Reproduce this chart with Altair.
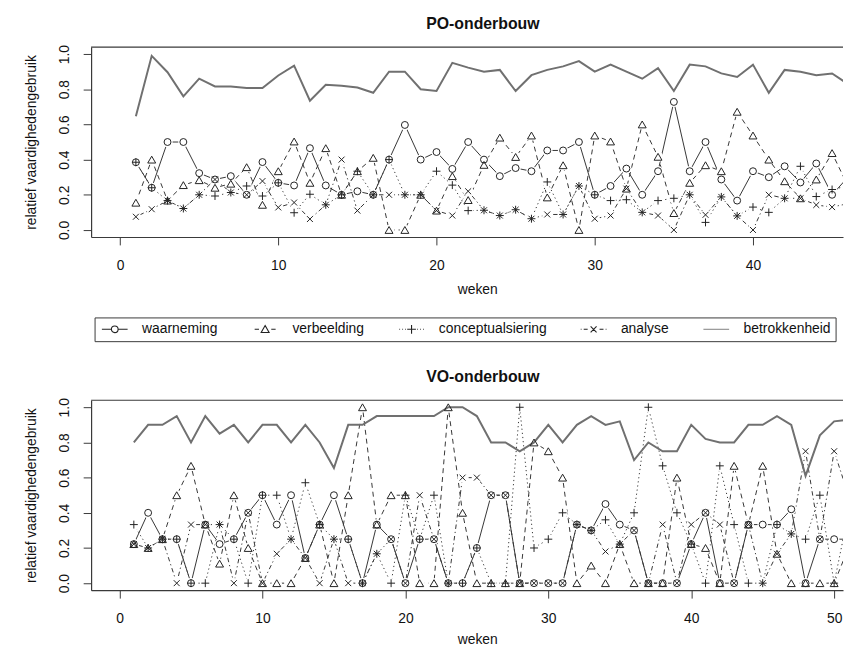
import altair as alt
import pandas as pd

FONT = "Liberation Sans"
SERIES = ["waarneming", "verbeelding", "conceptualsiering", "analyse", "betrokkenheid"]

# ---------------- PO-onderbouw (weeks 1..46) ----------------
po_weken = list(range(1, 47))
po_waarneming = [0.385, 0.24, 0.50, 0.50, 0.323, 0.287, 0.306, 0.20, 0.386, 0.268,
                 0.253, 0.465, 0.253, 0.20, 0.22, 0.20, 0.40, 0.597, 0.40, 0.443,
                 0.347, 0.50, 0.40, 0.306, 0.352, 0.334, 0.452, 0.452, 0.50, 0.20,
                 0.25, 0.349, 0.20, 0.334, 0.728, 0.334, 0.50, 0.287, 0.167, 0.334,
                 0.30, 0.362, 0.27, 0.378, 0.20, 0.30]
po_verbeelding = [0.155, 0.40, 0.167, 0.255, 0.283, 0.24, 0.263, 0.357, 0.143, 0.334,
                  0.503, 0.268, 0.465, 0.20, 0.334, 0.41, 0.0, 0.0, 0.20, 0.11,
                  0.306, 0.17, 0.37, 0.525, 0.415, 0.537, 0.185, 0.368, 0.0, 0.537,
                  0.503, 0.235, 0.60, 0.416, 0.096, 0.268, 0.368, 0.334, 0.672, 0.537,
                  0.40, 0.277, 0.18, 0.287, 0.437, 0.25]
po_concept = [0.385, 0.24, 0.167, 0.122, 0.20, 0.193, 0.213, 0.25, 0.193, 0.268,
              0.098, 0.203, 0.143, 0.20, 0.334, 0.20, 0.40, 0.20, 0.20, 0.334,
              0.255, 0.11, 0.112, 0.082, 0.115, 0.064, 0.273, 0.088, 0.25, 0.20,
              0.167, 0.172, 0.10, 0.167, 0.18, 0.20, 0.043, 0.188, 0.08, 0.13,
              0.10, 0.18, 0.362, 0.19, 0.23, 0.25]
po_analyse = [0.075, 0.118, 0.167, 0.122, 0.20, 0.287, 0.213, 0.20, 0.278, 0.128,
              0.156, 0.062, 0.143, 0.40, 0.11, 0.20, 0.20, 0.20, 0.20, 0.11,
              0.082, 0.22, 0.112, 0.082, 0.115, 0.064, 0.088, 0.088, 0.25, 0.064,
              0.082, 0.235, 0.10, 0.082, 0.0, 0.20, 0.086, 0.188, 0.08, 0.0,
              0.20, 0.18, 0.18, 0.142, 0.13, 0.15]
po_betrokkenheid = [0.647, 0.99, 0.897, 0.76, 0.86, 0.816, 0.816, 0.807, 0.807, 0.878,
                    0.934, 0.735, 0.826, 0.82, 0.81, 0.78, 0.90, 0.90, 0.80, 0.79,
                    0.95, 0.923, 0.90, 0.91, 0.79, 0.88, 0.91, 0.93, 0.96, 0.90,
                    0.94, 0.90, 0.86, 0.92, 0.79, 0.94, 0.93, 0.89, 0.87, 0.94,
                    0.78, 0.91, 0.90, 0.88, 0.89, 0.83]

# ---------------- VO-onderbouw (weeks 1..51) ----------------
vo_weken = list(range(1, 52))
vo_waarneming = [0.222, 0.40, 0.25, 0.25, 0.0, 0.333, 0.222, 0.25, 0.40, 0.50,
                 0.333, 0.50, 0.143, 0.333, 0.50, 0.25, 0.0, 0.333, 0.25, 0.0,
                 0.25, 0.25, 0.0, 0.0, 0.20, 0.50, 0.50, 0.0, 0.0, 0.0,
                 0.0, 0.333, 0.30, 0.45, 0.333, 0.30, 0.0, 0.0, 0.0, 0.222,
                 0.40, 0.0, 0.0, 0.333, 0.333, 0.333, 0.42, 0.0, 0.25, 0.25, 0.25]
vo_verbeelding = [0.222, 0.20, 0.25, 0.50, 0.667, 0.333, 0.111, 0.50, 0.20, 0.0,
                  0.0, 0.0, 0.143, 0.333, 0.0, 0.50, 1.0, 0.333, 0.50, 0.50,
                  0.0, 0.0, 1.0, 0.40, 0.0, 0.0, 0.0, 0.0, 0.80, 0.75,
                  0.60, 0.0, 0.10, 0.0, 0.222, 0.0, 0.0, 0.0, 0.60, 0.222,
                  0.20, 0.0, 0.667, 0.333, 0.667, 0.167, 0.0, 0.0, 0.0, 0.0, 0.20]
vo_concept = [0.333, 0.20, 0.25, 0.25, 0.0, 0.0, 0.333, 0.25, 0.0, 0.50,
              0.50, 0.25, 0.571, 0.333, 0.25, 0.25, 0.0, 0.167, 0.0, 0.50,
              0.25, 0.50, 0.0, 0.0, 0.20, 0.0, 0.0, 1.0, 0.20, 0.25,
              0.40, 0.333, 0.30, 0.36, 0.222, 0.40, 1.0, 0.667, 0.40, 0.222,
              0.0, 0.667, 0.333, 0.0, 0.0, 0.333, 0.28, 0.25, 0.50, 0.0, 0.40]
vo_analyse = [0.222, 0.20, 0.25, 0.0, 0.333, 0.333, 0.333, 0.0, 0.40, 0.0,
              0.167, 0.25, 0.143, 0.0, 0.25, 0.0, 0.0, 0.167, 0.25, 0.0,
              0.50, 0.25, 0.0, 0.60, 0.60, 0.50, 0.50, 0.0, 0.0, 0.0,
              0.0, 0.333, 0.30, 0.18, 0.222, 0.30, 0.0, 0.333, 0.0, 0.333,
              0.40, 0.333, 0.0, 0.333, 0.0, 0.167, 0.28, 0.75, 0.25, 0.75, 0.50]
vo_betrokkenheid = [0.80, 0.90, 0.90, 0.95, 0.80, 0.95, 0.85, 0.90, 0.80, 0.90,
                    0.90, 0.80, 0.90, 0.80, 0.655, 0.90, 0.90, 0.95, 0.95, 0.95,
                    0.95, 0.95, 1.0, 1.0, 0.95, 0.80, 0.80, 0.75, 0.80, 0.90,
                    0.80, 0.90, 0.95, 0.90, 0.92, 0.70, 0.80, 0.75, 0.75, 0.90,
                    0.82, 0.80, 0.80, 0.90, 0.90, 0.95, 0.90, 0.61, 0.84, 0.92, 0.93]

y_ticks = [0.0, 0.2, 0.4, 0.6, 0.8, 1.0]
po_x_ticks = [0, 10, 20, 30, 40]
vo_x_ticks = [0, 10, 20, 30, 40, 50]

# ---------------- styling ----------------
INK = "#222222"
LINE = "#363636"
GRAY = "#707070"
FRAME = "#3a3a3a"
W, H = 760, 192

PLUS = "M-1,0H1M0,-1V1"
CROSS = "M-0.75,-0.75L0.75,0.75M-0.75,0.75L0.75,-0.75"
STYLE = {
    "waarneming": dict(dash=None, shape="circle", size=49),
    "verbeelding": dict(dash=[5, 4], shape="triangle-up", size=64),
    "conceptualsiering": dict(dash=[1.2, 3], shape=PLUS, size=64),
    "analyse": dict(dash=[1.2, 3, 4.5, 3], shape=CROSS, size=64),
}

# legend symbols: line piece + marker (unit = 4px at symbolSize 64)
LEG_PATHS = [
    "M-1.15,0H1.25M2.95,0H5.35M2.95,0A0.85,0.85,0,1,1,1.25,0A0.85,0.85,0,1,1,2.95,0",
    "M-0.55,0H0.55M3.65,0H4.75M2.1,-0.95L3.1,0.8L1.1,0.8Z",
    "M-1.0,0H-0.8M-0.25,0H-0.05M0.5,0H0.7M3.5,0H3.7M4.25,0H4.45M5.0,0H5.2M1.0,0H3.2M2.1,-1.1V1.1",
    "M-1.15,0H-0.95M-0.4,0H0.6M3.6,0H4.6M5.15,0H5.35M1.35,-0.75L2.85,0.75M1.35,0.75L2.85,-0.75",
    "M-1.15,0H5.35",
]
LEG_COLORS = [INK, INK, INK, INK, "#8a8a8a"]

leg = alt.Legend(
    title=None, orient="none", legendX=3.5, legendY=273.3, direction="horizontal",
    columns=5, columnPadding=32, symbolSize=64, symbolStrokeWidth=1.1,
    symbolOpacity=1, symbolFillColor="transparent", labelOffset=29,
    labelFont=FONT, labelFontSize=14, labelColor="#111", labelBaseline="middle",
    labelLimit=0, padding=5, strokeColor=FRAME, fillColor="white",
)

legend_layer = alt.Chart(pd.DataFrame({"reeks": SERIES})).mark_point(
    opacity=0, filled=False
).encode(
    shape=alt.Shape("reeks:N", scale=alt.Scale(domain=SERIES, range=LEG_PATHS), legend=leg),
    stroke=alt.Stroke("reeks:N", scale=alt.Scale(domain=SERIES, range=LEG_COLORS), legend=leg),
)


def panel(weeks, cols, xdom, xticks, title, xtitle_y, with_legend):
    df = pd.DataFrame({"week": weeks, **{s: v for s, v in zip(SERIES, cols)}})
    long = df.melt("week", var_name="reeks", value_name="waarde")
    x_axis = alt.Axis(values=xticks, title="weken", grid=False, tickSize=8,
                      labelPadding=24.8, labelBaseline="alphabetic", labelFlush=False,
                      labelOverlap=False, titleX=390.3, titleY=xtitle_y,
                      titleAlign="center", titleBaseline="alphabetic")
    y_axis = alt.Axis(values=y_ticks, format=".1f", title="relatief vaardighedengebruik",
                      grid=False, tickSize=8, labelAngle=270, labelAlign="center",
                      labelBaseline="middle", labelPadding=18.7, labelFlush=False,
                      labelOverlap=False, titleX=-60.7, titleY=H / 2, titleAngle=270,
                      titleAlign="center", titleBaseline="middle")
    X = alt.X("week:Q", scale=alt.Scale(domain=xdom, nice=False, zero=False), axis=x_axis)
    Y = alt.Y("waarde:Q", scale=alt.Scale(domain=[-0.04, 1.04], nice=False, zero=False),
              axis=y_axis)
    base = alt.Chart(long)
    marked = base.transform_filter(alt.datum.reeks != "betrokkenheid")

    lines, marks = [], []
    for s in SERIES[:4]:
        st = STYLE[s]
        sub = base.transform_filter(alt.datum.reeks == s)
        kw = dict(color=LINE, strokeWidth=1, clip=True)
        if st["dash"]:
            kw["strokeDash"] = st["dash"]
        lines.append(sub.mark_line(**kw).encode(x=X, y=Y))
        marks.append(sub.mark_point(shape=st["shape"], size=st["size"], filled=False,
                                    color=INK, strokeWidth=1, opacity=1, clip=True)
                     .encode(x=X, y=Y))
    # white halo under every marker: lines stop short of the symbols (R type = "b")
    halo = marked.mark_point(shape="circle", size=110, filled=True, color="white",
                             opacity=1, strokeWidth=0, clip=True).encode(x=X, y=Y)
    betr = (base.transform_filter(alt.datum.reeks == "betrokkenheid")
            .mark_line(color=GRAY, strokeWidth=2, clip=True).encode(x=X, y=Y))
    frame_top = (alt.Chart(alt.Data(values=[{}])).mark_rule(color=FRAME, strokeWidth=1.2)
                 .encode(x=alt.value(0), x2=alt.value(W), y=alt.value(0)))

    layers = lines + [halo, betr] + marks + [frame_top]
    if with_legend:
        layers.append(legend_layer)
    return alt.layer(*layers).properties(
        width=W, height=H,
        title=alt.TitleParams(title, anchor="middle", dx=16, offset=-0.6,
                              baseline="alphabetic", font=FONT, fontSize=16,
                              fontWeight="bold", color="#111"),
    )


top = panel(po_weken, [po_waarneming, po_verbeelding, po_concept, po_analyse, po_betrokkenheid],
            [-1.83, 45.69], po_x_ticks, "PO-onderbouw", 56.8, True)
bottom = panel(vo_weken, [vo_waarneming, vo_verbeelding, vo_concept, vo_analyse, vo_betrokkenheid],
               [-1.99, 50.62], vo_x_ticks, "VO-onderbouw", 54.2, False)

chart = alt.vconcat(top, bottom, spacing=73).properties(
    padding={"left": 16, "top": 4, "right": 0, "bottom": 0}
).configure_view(stroke=None).configure_axis(
    labelFont=FONT, titleFont=FONT, labelFontSize=14, titleFontSize=14,
    titleFontWeight="normal", labelColor="#111", titleColor="#111",
    domainColor=FRAME, tickColor=FRAME, domainWidth=1.2, tickWidth=1,
)

chart.save("out.html", embed_options={"renderer": "svg", "actions": False})
